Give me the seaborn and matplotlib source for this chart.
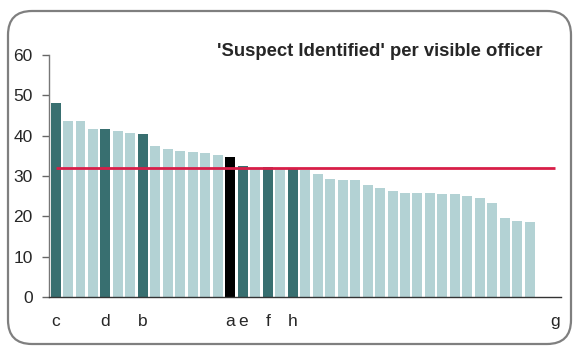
import matplotlib
matplotlib.use("Agg")
import matplotlib.pyplot as plt
import seaborn as sns
import pandas as pd
from matplotlib.patches import FancyBboxPatch

# values, sorted high to low
values = [48.0, 43.6, 43.6, 41.7, 41.6, 41.2, 40.6, 40.4, 37.5, 36.6,
          36.1, 36.0, 35.8, 35.1, 34.7, 32.5, 32.1, 32.2, 31.7, 31.7,
          31.4, 30.5, 29.3, 29.1, 28.9, 27.7, 27.0, 26.4, 25.9, 25.9,
          25.7, 25.6, 25.5, 25.0, 24.5, 23.3, 19.5, 18.8, 18.5, 0, 0]
labels = ['c', '', '', '', 'd', '', '', 'b', '', '',
          '', '', '', '', 'a', 'e', '', 'f', '', 'h',
          '', '', '', '', '', '', '', '', '', '',
          '', '', '', '', '', '', '', '', '', '', 'g']
groups = ['dark', 'light', 'light', 'light', 'dark', 'light', 'light', 'dark', 'light', 'light',
          'light', 'light', 'light', 'light', 'black', 'dark', 'light', 'dark', 'light', 'dark',
          'light', 'light', 'light', 'light', 'light', 'light', 'light', 'light', 'light', 'light',
          'light', 'light', 'light', 'light', 'light', 'light', 'light', 'light', 'light', 'light', 'light']
average = 31.9
title = "'Suspect Identified' per visible officer"

palette = {'dark': '#2F7879', 'light': '#AED6DA', 'black': '#000000'}

df = pd.DataFrame({'pos': range(len(values)), 'value': values, 'group': groups})

sns.set_style("white")
plt.rcParams['font.family'] = ['Liberation Sans', 'DejaVu Sans']

W, H = 575, 346
fig = plt.figure(figsize=(W / 100, H / 100), dpi=100)

# rounded frame drawn in pixel units on a background axes
bg = fig.add_axes([0, 0, 1, 1])
bg.set_xlim(0, W)
bg.set_ylim(H, 0)
bg.axis('off')
bg.add_patch(FancyBboxPatch((8, 11), 563, 333,
                            boxstyle="round,pad=0,rounding_size=24",
                            fill=False, edgecolor='#7F7F7F', linewidth=1.6))

ax = fig.add_axes([49.3 / W, 1 - 297 / H, (561 - 49.3) / W, (297 - 55) / H])
ax.patch.set_alpha(0)

sns.barplot(data=df, x='pos', y='value', hue='group', palette=palette,
            dodge=False, width=0.8, legend=False, ax=ax, linewidth=0)

ax.hlines(average, 0, len(values) - 1, color='#D81E48', linewidth=2)

ax.set_xlim(-0.5, len(values) - 0.5)
ax.set_ylim(0, 60)
ax.set_yticks(range(0, 61, 10))
ax.set_xticks(range(len(values)))
ax.set_xticklabels(labels)
ax.set_xlabel('')
ax.set_ylabel('')
ax.tick_params(axis='y', labelsize=12.5, length=5, width=1, color='#666666', pad=7, left=True)
ax.tick_params(axis='x', labelsize=12.5, length=0, pad=12)
for side in ['top', 'right']:
    ax.spines[side].set_visible(False)
ax.spines['left'].set_color('#777777')
ax.spines['bottom'].set_color('#333333')
ax.spines['left'].set_linewidth(1)
ax.spines['bottom'].set_linewidth(1)

fig.text(543 / W, 1 - 56 / H, title, ha='right', va='baseline',
         fontsize=13.35, fontweight='bold')

fig.savefig("out.png", dpi=100)
